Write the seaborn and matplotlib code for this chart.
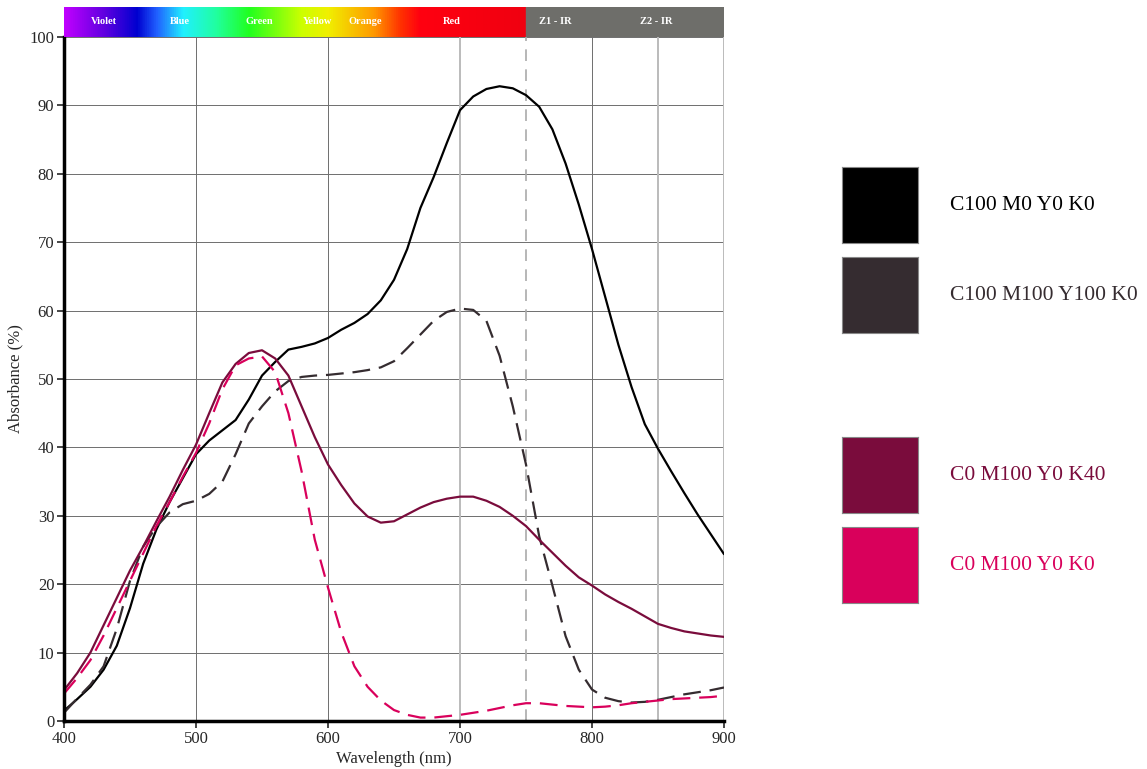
import matplotlib
matplotlib.use("Agg")
import matplotlib.pyplot as plt
from matplotlib.colors import LinearSegmentedColormap
from matplotlib.patches import Rectangle
import seaborn as sns
import pandas as pd
import numpy as np

# --- data (absorbance %, every 10 nm) ---
wavelength = list(range(400, 901, 10))

abs_cyan = [1.5, 3.2, 5, 7.5, 11, 16.5, 23, 28, 32, 35.5,
            39, 41, 42.5, 44, 47, 50.5, 52.5, 54.3, 54.7, 55.2,
            56, 57.2, 58.2, 59.5, 61.5, 64.5, 69, 75, 79.5, 84.5,
            89.3, 91.3, 92.4, 92.8, 92.5, 91.5, 89.8, 86.5, 81.5, 75.5,
            69, 62, 55, 48.8, 43.4, 39.8, 36.5, 33.3, 30.2, 27.3,
            24.4]

abs_cmy = [1.2, 3.3, 5.3, 8, 13.5, 20.5, 25.5, 28.4, 30.5, 31.7,
           32.2, 33.2, 35, 39, 43.5, 46, 48.2, 49.7, 50.3, 50.5,
           50.6, 50.8, 51, 51.3, 51.7, 52.6, 54.5, 56.5, 58.5, 59.8,
           60.3, 60.1, 58.5, 53.4, 46, 37.5, 27, 19.8, 12.4, 7.5,
           4.6, 3.4, 2.9, 2.7, 2.8, 3.1, 3.5, 3.9, 4.2, 4.5,
           4.9]

abs_mk40 = [4.5, 7, 10, 14, 18, 22, 25.5, 29.2, 32.8, 36.7,
            40.4, 45, 49.5, 52.2, 53.8, 54.2, 53, 50.5, 46, 41.5,
            37.5, 34.5, 31.8, 29.9, 29, 29.2, 30.2, 31.2, 32, 32.5,
            32.8, 32.8, 32.2, 31.3, 30, 28.5, 26.5, 24.6, 22.7, 21,
            19.8, 18.5, 17.4, 16.4, 15.3, 14.2, 13.6, 13.1, 12.8, 12.5,
            12.3]

abs_mag = [4, 6.3, 8.9, 12.5, 16.5, 20.5, 24.5, 28.5, 32, 35.7,
           39.2, 43.5, 48.5, 52, 53, 53.3, 51, 45, 36.5, 26.5,
           19.5, 13, 8, 5, 3, 1.6, 0.9, 0.5, 0.5, 0.7,
           0.9, 1.2, 1.5, 1.9, 2.3, 2.6, 2.6, 2.4, 2.2, 2.1,
           2, 2.1, 2.3, 2.6, 2.8, 3, 3.2, 3.3, 3.4, 3.5,
           3.7]

series_labels = ["C100 M0 Y0 K0", "C100 M100 Y100 K0", "C0 M100 Y0 K40", "C0 M100 Y0 K0"]
series_colors = ["#000000", "#352c30", "#7a0c3c", "#d9005b"]
series_dashed = [False, True, False, True]

band_names = ["Violet", "Blue", "Green", "Yellow", "Orange", "Red", "Z1 - IR", "Z2 - IR"]
band_pos = [430, 488, 548, 592, 628, 694, 772, 849]

spec_wl = [400, 430, 455, 470, 490, 515, 540, 580, 600, 635, 655, 670, 750]
spec_col = ["#c000ff", "#6000e0", "#0000d0", "#2060ff", "#20f0ff", "#20ffa0", "#20ff20",
            "#ccff00", "#f0f000", "#ff9900", "#ff3300", "#ff0010", "#f00010"]

sns.set_style("white")
plt.rcParams["font.family"] = ["Liberation Serif", "DejaVu Serif"]

fig = plt.figure(figsize=(11.47, 7.69), dpi=100)
ax = fig.add_axes([64 / 1147, 48 / 769, 660 / 1147, 684 / 769])

# grid
for y in range(10, 101, 10):
    ax.axhline(y, color="#6e6e6e", lw=0.7, zorder=0)
for x in [500, 600, 800]:
    ax.axvline(x, color="#6e6e6e", lw=0.7, zorder=0)
for x in [700, 850, 900]:
    ax.axvline(x, color="#bbbbbb", lw=1.4, zorder=0)
ax.axvline(750, color="#aaaaaa", lw=1.2, dashes=(7, 5), zorder=0)

all_abs = [abs_cyan, abs_cmy, abs_mk40, abs_mag]
for ab, lab, col, dsh in zip(all_abs, series_labels, series_colors, series_dashed):
    df = pd.DataFrame({"wl": wavelength, "abs": ab})
    sns.lineplot(data=df, x="wl", y="abs", ax=ax, color=col, lw=1.6, label=lab)
    if dsh:
        ax.lines[-1].set_dashes((8, 4))
ax.get_legend().remove()

ax.set_xlim(400, 900)
ax.set_ylim(0, 100)
ax.set_xticks(range(400, 901, 100))
ax.set_yticks(range(0, 101, 10))
ax.tick_params(axis="both", labelsize=12, length=5, width=1.2, direction="out",
               left=True, bottom=True, pad=2)
ax.set_xlabel("Wavelength (nm)", fontsize=12, labelpad=3)
ax.set_ylabel("Absorbance (%)", fontsize=12, labelpad=4)
for s in ["top", "right"]:
    ax.spines[s].set_visible(False)
for s in ["left", "bottom"]:
    ax.spines[s].set_linewidth(2.5)
    ax.spines[s].set_color("black")

# spectrum bar on top
bar = fig.add_axes([64 / 1147, 732 / 769, 660 / 1147, 30 / 769])
cmap = LinearSegmentedColormap.from_list(
    "spec", [((w - 400) / 350, c) for w, c in zip(spec_wl, spec_col)])
grad = np.linspace(0, 1, 512)[None, :]
bar.imshow(grad, aspect="auto", cmap=cmap, extent=(400, 750, 0, 1))
bar.add_patch(Rectangle((750, 0), 150, 1, color="#6e6e6a"))
bar.set_xlim(400, 900)
bar.set_ylim(0, 1)
bar.axis("off")
for name, pos in zip(band_names, band_pos):
    bar.text(pos, 0.5, name, color="white", fontsize=7.5, fontweight="bold",
             ha="center", va="center")

# colour key on the right
for i, (lab, col) in enumerate(zip(series_labels, series_colors)):
    top = [167, 257, 437, 527][i]
    kx = fig.add_axes([842 / 1147, (769 - top - 76) / 769, 76 / 1147, 76 / 769])
    kx.set_facecolor(col)
    kx.set_xticks([])
    kx.set_yticks([])
    for s in kx.spines.values():
        s.set_color("#888888")
        s.set_linewidth(0.8)
    fig.text(950 / 1147, (769 - top - 38) / 769, lab, color=col, fontsize=15.5,
             ha="left", va="center")

fig.savefig("out.png", dpi=100)
